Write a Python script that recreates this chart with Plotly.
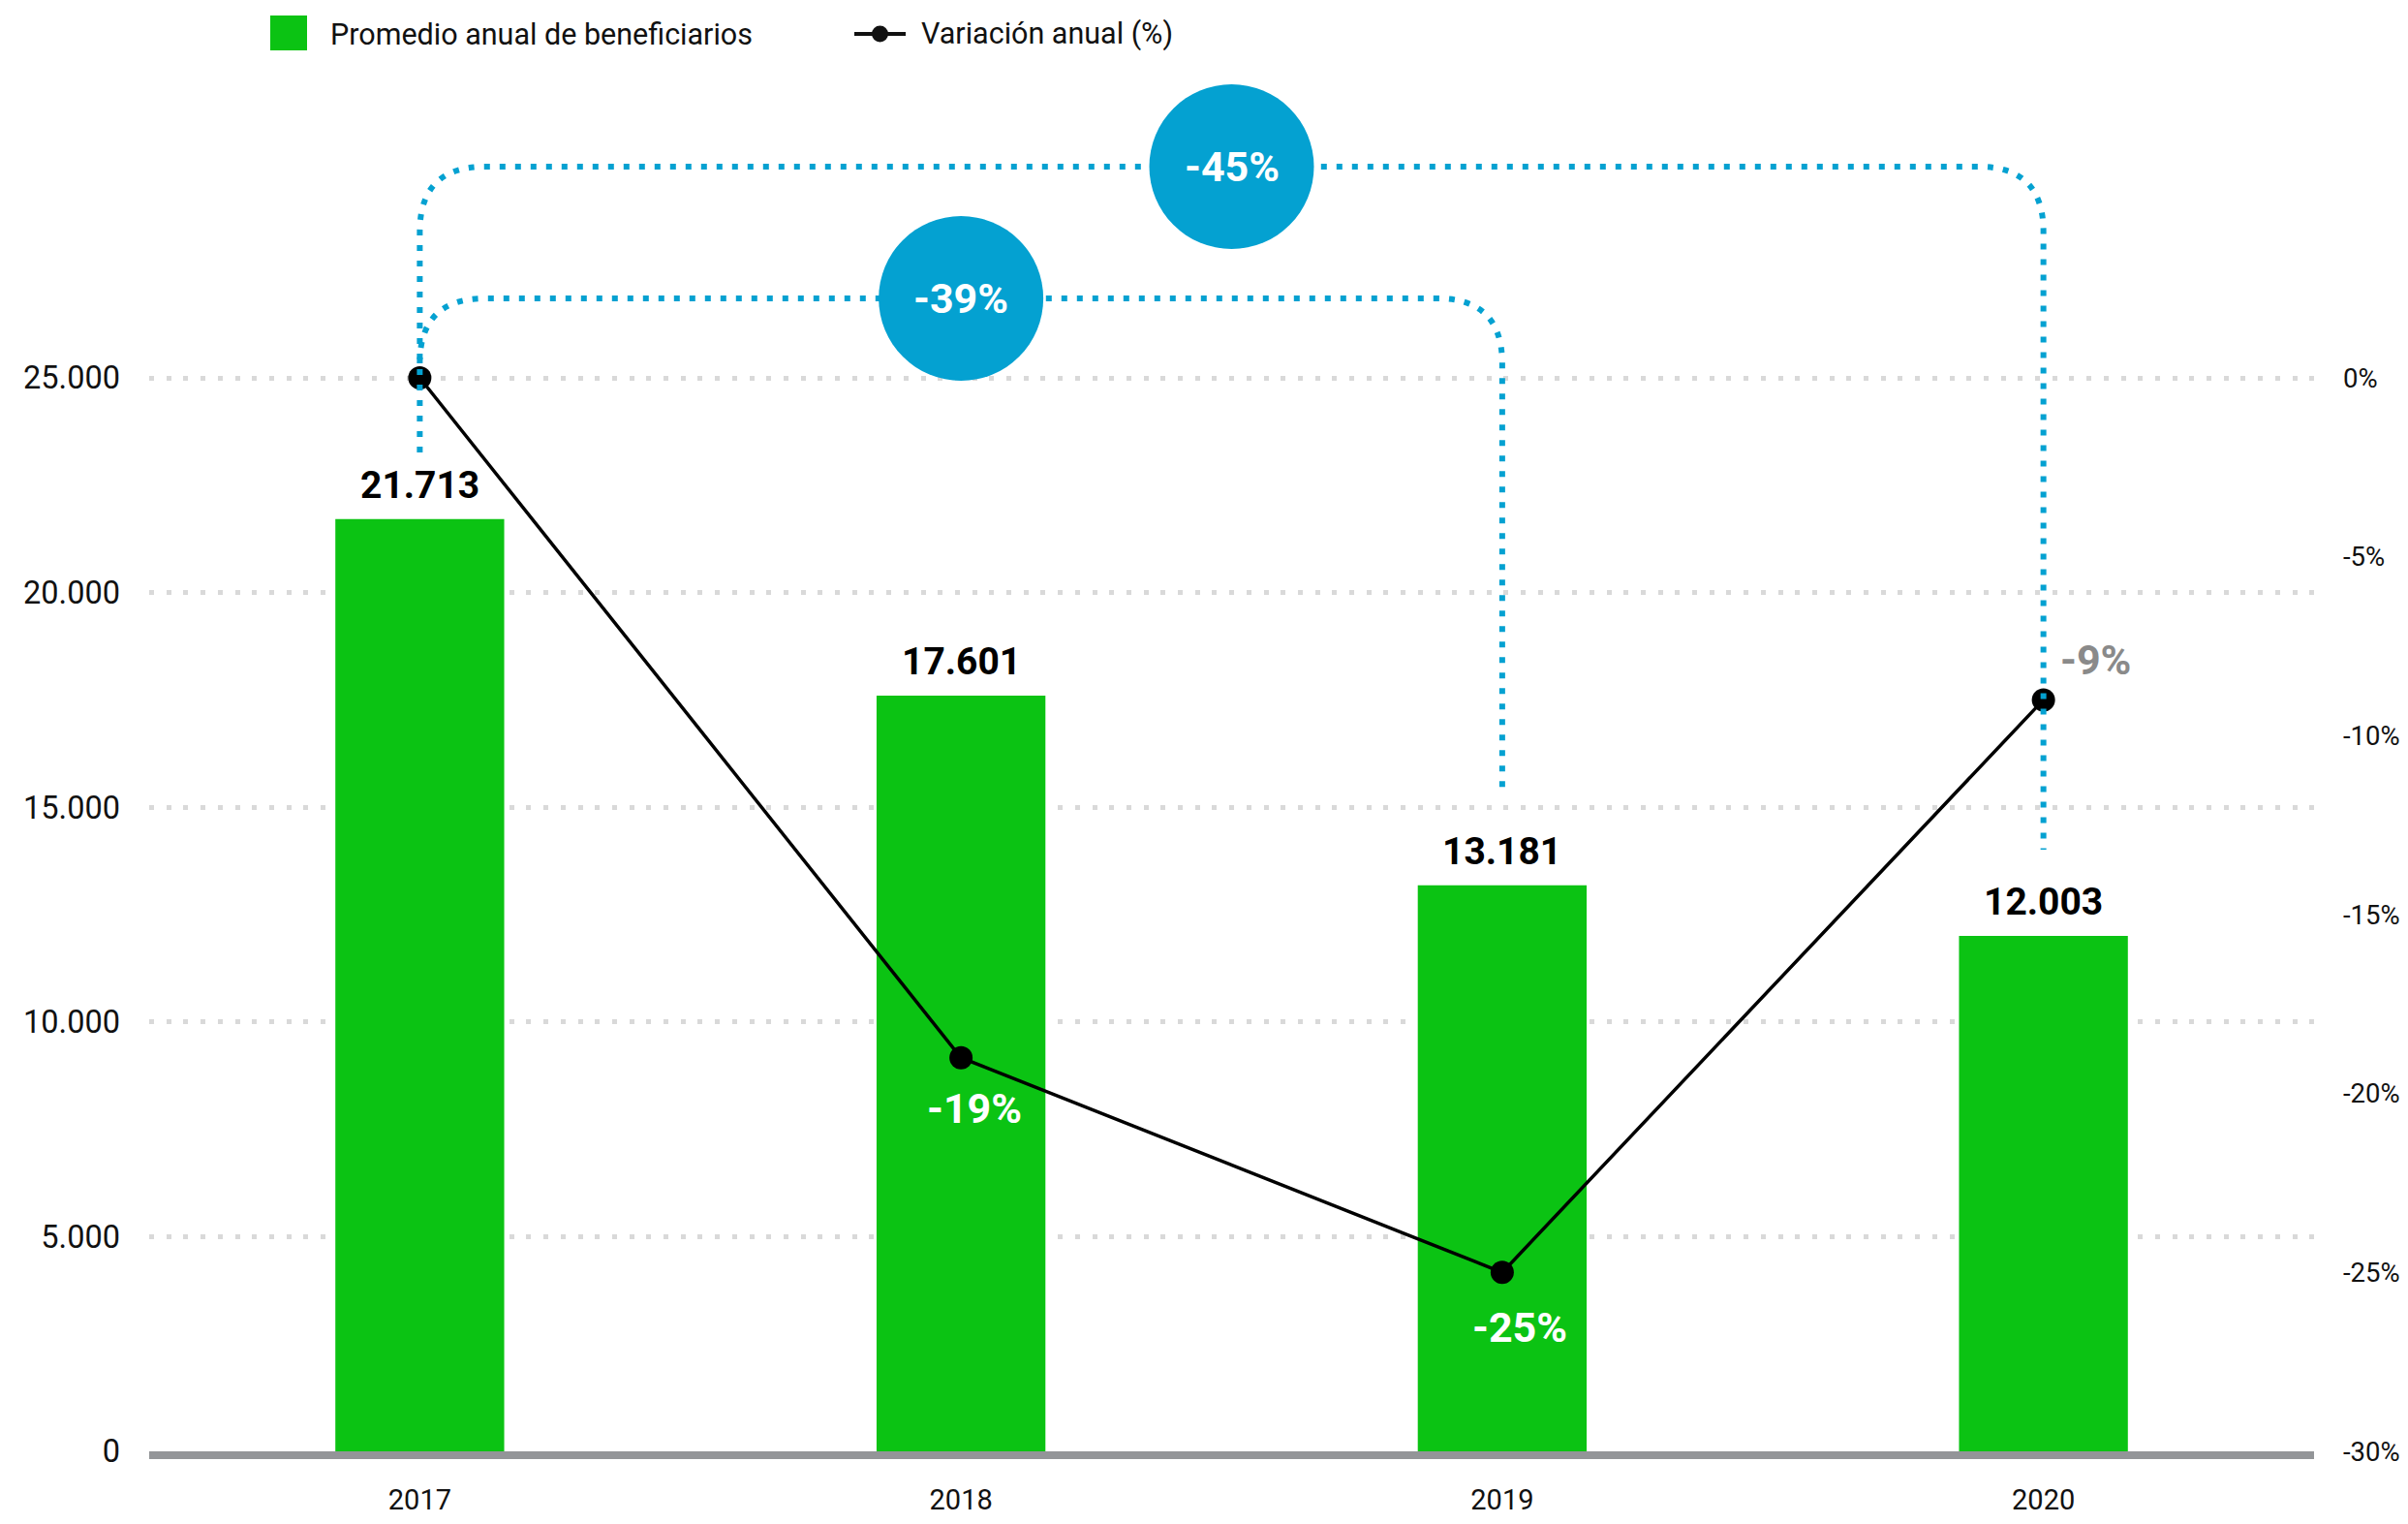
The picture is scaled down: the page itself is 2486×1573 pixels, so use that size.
import plotly.graph_objects as go

# ---------------- data ----------------
years = ["2017", "2018", "2019", "2020"]
beneficiarios = [21713, 17601, 13181, 12003]
variacion = [0, -19, -25, -9]
left_ticks = [0, 5000, 10000, 15000, 20000, 25000]
right_ticks = [0, -5, -10, -15, -20, -25, -30]
bracket_from = [0, 0]
bracket_to = [3, 2]
bracket_labels = ["-45%", "-39%"]
legend_names = ["Promedio anual de beneficiarios", "Variación anual (%)"]

# ---------------- layout geometry / styles ----------------
OFF = 8  # page body margin in the browser
W, H = 2486 - 2 * OFF, 1573 - 2 * OFF
ML, MT = 154 - OFF, 60 - OFF
MR = W - (2389 - OFF)
MB = H - (1498 - OFF)
PW = W - ML - MR
PH = H - MT - MB
Y1_PER_PX = 25000 / 1108.0
Y2_PER_PX = 30 / 1108.0
y1_max = PH * Y1_PER_PX
y2_max = -30 + PH * Y2_PER_PX
X_PER_PX = 4.0 / PW

FONT = "Roboto, sans-serif"
GREEN = "#0BC313"
BLUE = "#04A1D1"
GRID = "#d9d9d9"
AXIS = "#939598"


def fmt(v):
    return f"{v:,}".replace(",", ".")


def px_y1(pix_above_bottom):
    return pix_above_bottom * Y1_PER_PX


# bracket pixel styles (height above plot bottom): top, left start, right end
bracket_style = [
    dict(top=1326, left=1031, right=621),
    dict(top=1190, left=1131, right=680),
]
radius_px = 67

# line label offsets (px) and colours
line_label_style = [
    None,
    dict(dx=14, dy=-52, color="white"),
    dict(dx=18, dy=-57, color="white"),
    dict(dx=54, dy=41, color="#8a8a8a"),
]

xs = list(range(len(years)))

fig = go.Figure()
fig.add_trace(go.Bar(
    x=xs, y=beneficiarios, name=legend_names[0], marker_color=GREEN,
    marker_line_width=0, width=0.312, showlegend=False, hoverinfo="skip",
))
fig.add_trace(go.Scatter(
    x=xs, y=variacion, name=legend_names[1], yaxis="y2", mode="lines+markers",
    line=dict(color="black", width=3.5), marker=dict(color="black", size=24),
    showlegend=False, hoverinfo="skip",
))

shapes = []
annotations = []

# brackets
rx = radius_px * X_PER_PX
ry = radius_px * Y1_PER_PX
for i0, i1, lab, st in zip(bracket_from, bracket_to, bracket_labels, bracket_style):
    x0, x1 = xs[i0], xs[i1]
    ytop = px_y1(st["top"])
    yl = min(px_y1(st["left"]), ytop - ry)
    yr = px_y1(st["right"])
    path = (f"M {x0},{yl} L {x0},{ytop - ry} Q {x0},{ytop} {x0 + rx},{ytop} "
            f"L {x1 - rx},{ytop} Q {x1},{ytop} {x1},{ytop - ry} L {x1},{yr}")
    shapes.append(dict(type="path", path=path, xref="x", yref="y",
                       line=dict(color=BLUE, width=6, dash="6px,10px"), layer="above"))
    cx = (x0 + x1) / 2.0
    shapes.append(dict(type="circle", xref="x", yref="y", xsizemode="pixel", ysizemode="pixel",
                       xanchor=cx, yanchor=ytop, x0=-85, x1=85, y0=-85, y1=85,
                       fillcolor=BLUE, line=dict(width=0), layer="above"))
    annotations.append(dict(x=cx, y=ytop, xref="x", yref="y", text=lab, showarrow=False,
                            font=dict(family=FONT, size=43, color="white", weight=700),
                            xanchor="center", yanchor="middle"))

# bar labels
for x, v in zip(xs, beneficiarios):
    annotations.append(dict(x=x, y=v, xref="x", yref="y", text=fmt(v), showarrow=False,
                            yshift=35, xanchor="center", yanchor="middle",
                            font=dict(family=FONT, size=39, color="black", weight=700)))

# line labels
for x, v, st in zip(xs, variacion, line_label_style):
    if st is None:
        continue
    annotations.append(dict(x=x, y=v, xref="x", yref="y2", text=f"{v}%", showarrow=False,
                            xshift=st["dx"], yshift=st["dy"], xanchor="center", yanchor="middle",
                            font=dict(family=FONT, size=43, color=st["color"], weight=700)))


# manual legend (page pixel -> paper)
def pxx(p):
    return (p - OFF - ML) / PW


def pxy(p):
    return (H - MB - (p - OFF)) / PH


shapes.append(dict(type="rect", xref="paper", yref="paper", x0=pxx(279), x1=pxx(317),
                   y0=pxy(52), y1=pxy(16), fillcolor=GREEN, line=dict(width=0)))
annotations.append(dict(x=pxx(339), y=pxy(35), xref="paper", yref="paper", text=legend_names[0],
                        showarrow=False, xanchor="left", yanchor="middle",
                        font=dict(family=FONT, size=30.5, color="#111111")))
shapes.append(dict(type="line", xref="paper", yref="paper", x0=pxx(882), x1=pxx(935),
                   y0=pxy(35), y1=pxy(35), line=dict(color="#111111", width=4)))
shapes.append(dict(type="circle", xref="paper", yref="paper", x0=pxx(900), x1=pxx(917),
                   y0=pxy(43.5), y1=pxy(26.5), fillcolor="#111111", line=dict(width=0)))
annotations.append(dict(x=pxx(949), y=pxy(35), xref="paper", yref="paper", text=legend_names[1],
                        showarrow=False, xanchor="left", yanchor="middle",
                        font=dict(family=FONT, size=30.5, color="#111111")))

fig.update_layout(
    width=W, height=H,
    margin=dict(l=ML, r=MR, t=MT, b=MB, autoexpand=False),
    paper_bgcolor="white", plot_bgcolor="white",
    showlegend=False,
    shapes=shapes, annotations=annotations,
    font=dict(family=FONT, color="#111111"),
    xaxis=dict(range=[-0.5, 3.5], tickvals=xs, ticktext=years, showgrid=False, zeroline=False,
               showline=True, linecolor=AXIS, linewidth=8, ticks="", ticklabelstandoff=17,
               tickfont=dict(family=FONT, size=29, color="#111111"), fixedrange=True),
    yaxis=dict(range=[0, y1_max], tickvals=left_ticks, ticktext=[fmt(v) for v in left_ticks],
               showgrid=True, gridcolor=GRID, gridwidth=5, griddash="5px,12.7px",
               zeroline=False, showline=False, ticks="", ticklabelstandoff=29,
               tickfont=dict(family=FONT, size=32.5, color="#111111")),
    yaxis2=dict(range=[-30, y2_max], overlaying="y", side="right", tickvals=right_ticks,
                ticktext=[f"{v}%" for v in right_ticks], showgrid=False, zeroline=False,
                showline=False, ticks="", ticklabelstandoff=29,
                tickfont=dict(family=FONT, size=27.5, color="#111111")),
)

fig.write_html("out.html")
